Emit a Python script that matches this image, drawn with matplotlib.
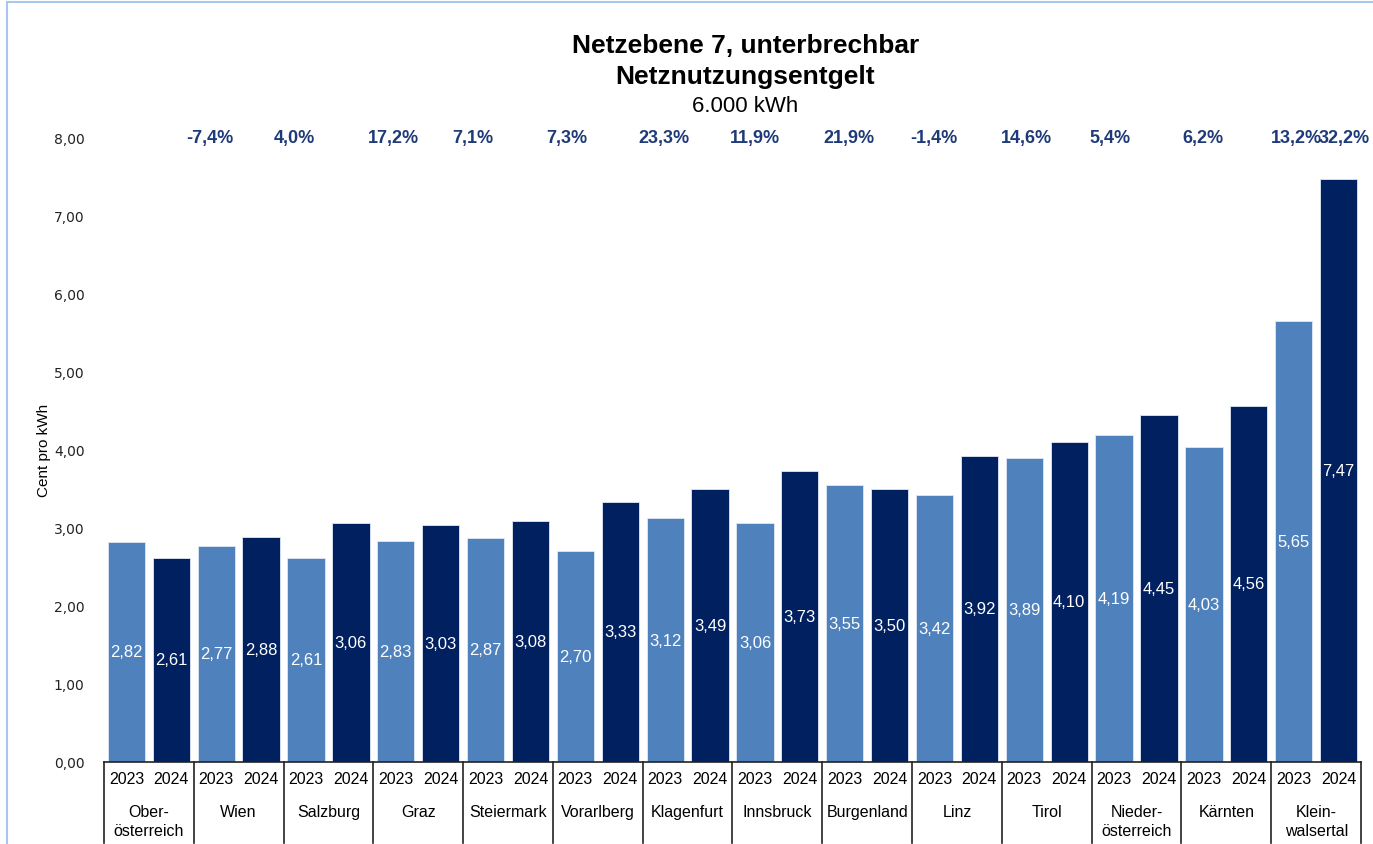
import matplotlib
matplotlib.use('Agg')
import matplotlib.pyplot as plt
from matplotlib.lines import Line2D
import numpy as np

regions = ['Ober-\nösterreich', 'Wien', 'Salzburg', 'Graz', 'Steiermark', 'Vorarlberg',
           'Klagenfurt', 'Innsbruck', 'Burgenland', 'Linz', 'Tirol', 'Nieder-\nösterreich',
           'Kärnten', 'Klein-\nwalsertal']
years = ['2023', '2024']
vals_2023 = [2.82, 2.77, 2.61, 2.83, 2.87, 2.70, 3.12, 3.06, 3.55, 3.42, 3.89, 4.19, 4.03, 5.65]
vals_2024 = [2.61, 2.88, 3.06, 3.03, 3.08, 3.33, 3.49, 3.73, 3.50, 3.92, 4.10, 4.45, 4.56, 7.47]
changes = ['-7,4%', '4,0%', '17,2%', '7,1%', '7,3%', '23,3%', '11,9%', '21,9%',
           '-1,4%', '14,6%', '5,4%', '6,2%', '13,2%', '32,2%']
yticks = [0, 1, 2, 3, 4, 5, 6, 7, 8]

# hand placed percent label positions (in bar slots)
change_x = [1.85, 3.75, 5.94, 7.72, 9.82, 11.97, 14.0, 16.1, 17.98, 20.04, 21.91, 23.97, 26.05, 27.12]

LIGHT = '#4F81BD'
DARK = '#002060'
PCT = '#1F3A78'
FONT = 'Liberation Sans'

plt.rcParams['font.family'] = [FONT, 'DejaVu Sans']

fig = plt.figure(figsize=(13.73, 8.45), dpi=100, facecolor='white')
ax = fig.add_axes([0.0757, 0.0974, 0.9913 - 0.0757, 0.8359 - 0.0974])

n = len(regions)
x23 = np.arange(n) * 2
x24 = x23 + 1
w = 0.83
b23 = ax.bar(x23, vals_2023, width=w, color=LIGHT, edgecolor='#dfe8f5', linewidth=0.6, zorder=2)
b24 = ax.bar(x24, vals_2024, width=w, color=DARK, edgecolor='#dfe8f5', linewidth=0.6, zorder=2)

for bars, vals in ((b23, vals_2023), (b24, vals_2024)):
    for bar, v in zip(bars, vals):
        ax.text(bar.get_x() + bar.get_width() / 2, v / 2, f'{v:.2f}'.replace('.', ','),
                ha='center', va='center', color='white', fontsize=12, zorder=3)

ax.set_xlim(-0.5, 2 * n - 0.5)
ax.set_ylim(0, 8)
ax.set_yticks(yticks)
ax.set_yticklabels([f'{t:.2f}'.replace('.', ',') for t in yticks], family='DejaVu Sans', fontsize=10)
ax.tick_params(axis='y', length=0, pad=14, colors='#222222')
ax.set_xticks([])
for s in ['top', 'right', 'left']:
    ax.spines[s].set_visible(False)
ax.spines['bottom'].set_color('#222222')
ax.spines['bottom'].set_linewidth(1.2)

ax.set_ylabel('Cent pro kWh', fontsize=11, labelpad=2)

# multi level category axis
trans = ax.get_xaxis_transform()
for k in range(n + 1):
    xb = 2 * k - 0.5
    ax.add_line(Line2D([xb, xb], [0, -0.13], transform=trans, color='#222222',
                       linewidth=1.2, clip_on=False))
for i in range(n):
    for j, yr in enumerate(years):
        ax.text(2 * i + j, -0.027, yr, transform=trans, ha='center', va='center',
                fontsize=11.5, clip_on=False)
    ax.text(2 * i + 0.5, -0.068, regions[i], transform=trans, ha='center', va='top',
            fontsize=11.5, linespacing=1.3, clip_on=False)

# percent changes above
for xc, lab in zip(change_x, changes):
    ax.text(xc, 8.0, lab, ha='center', va='center', fontsize=13, fontweight='bold',
            color=PCT, clip_on=False)

fig.text(0.543, 0.946, 'Netzebene 7, unterbrechbar', ha='center', va='center',
         fontsize=19, fontweight='bold')
fig.text(0.543, 0.909, 'Netznutzungsentgelt', ha='center', va='center',
         fontsize=19, fontweight='bold')
fig.text(0.543, 0.874, '6.000 kWh', ha='center', va='center', fontsize=16)

# light chart frame
fig.add_artist(Line2D([7 / 1373, 7 / 1373], [0, 1 - 3 / 845], transform=fig.transFigure,
                      color='#A9C6EE', linewidth=1.5))
fig.add_artist(Line2D([7 / 1373, 1], [1 - 3 / 845, 1 - 3 / 845], transform=fig.transFigure,
                      color='#A9C6EE', linewidth=1.5))

plt.savefig('out.png', dpi=100, facecolor='white')
